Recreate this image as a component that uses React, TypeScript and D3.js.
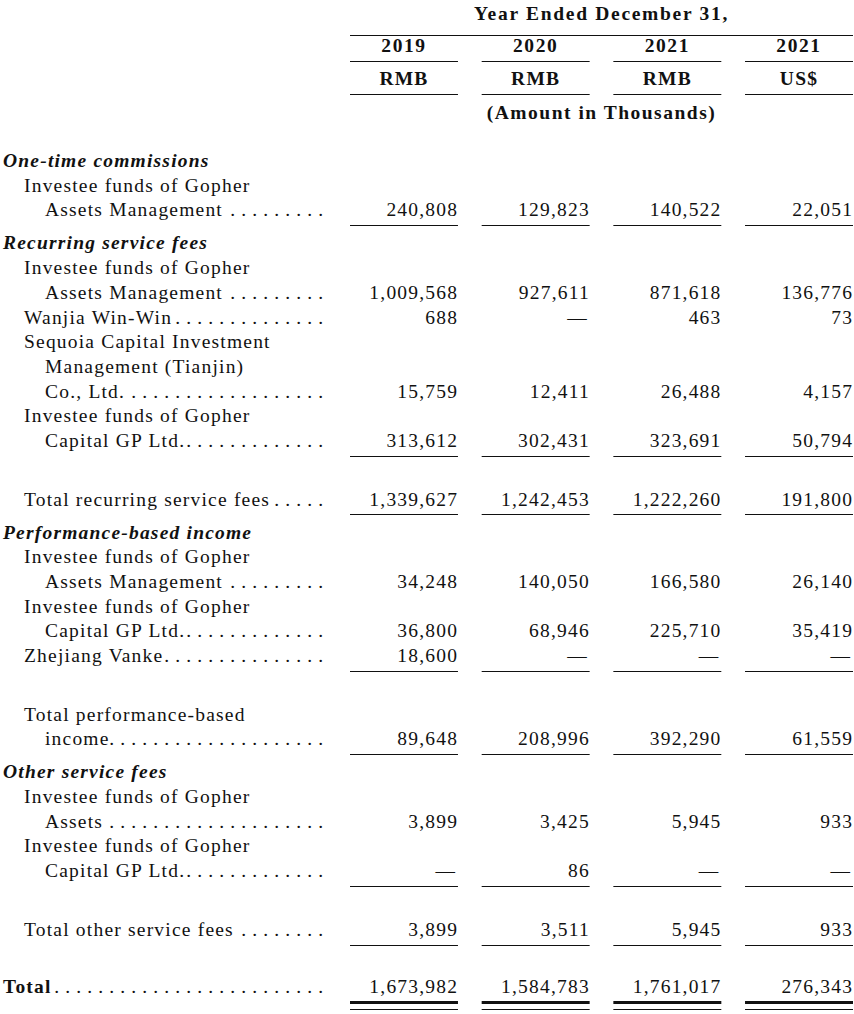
import React, { useEffect, useRef } from 'react';
import * as d3 from 'd3';

// column headers
const years = ['2019', '2020', '2021', '2021'];
const currencies = ['RMB', 'RMB', 'RMB', 'US$'];
const colKeys = ['c2019', 'c2020', 'c2021', 'c2021usd'];

// values in thousands, null = dash
const oneTimeGopherAssets = [240808, 129823, 140522, 22051];
const recurringGopherAssets = [1009568, 927611, 871618, 136776];
const recurringWanjia = [688, null, 463, 73];
const recurringSequoia = [15759, 12411, 26488, 4157];
const recurringGopherCapital = [313612, 302431, 323691, 50794];
const recurringTotal = [1339627, 1242453, 1222260, 191800];
const perfGopherAssets = [34248, 140050, 166580, 26140];
const perfGopherCapital = [36800, 68946, 225710, 35419];
const perfVanke = [18600, null, null, null];
const perfTotal = [89648, 208996, 392290, 61559];
const otherGopherAssets = [3899, 3425, 5945, 933];
const otherGopherCapital = [null, 86, null, null];
const otherTotal = [3899, 3511, 5945, 933];
const grandTotal = [1673982, 1584783, 1761017, 276343];

type Row = {
    label: string;
    indent: number;
    kind?: 'section' | 'total';
    values?: (number | null)[];
    step: 'n' | 'r' | 'b' | 't';
    rule?: 'single' | 'double';
};

const rows: Row[] = [
    { label: 'One-time commissions', indent: 0, kind: 'section', step: 'n' },
    { label: 'Investee funds of Gopher', indent: 1, step: 'n' },
    { label: 'Assets Management', indent: 2, values: oneTimeGopherAssets, step: 'n', rule: 'single' },
    { label: 'Recurring service fees', indent: 0, kind: 'section', step: 'r' },
    { label: 'Investee funds of Gopher', indent: 1, step: 'n' },
    { label: 'Assets Management', indent: 2, values: recurringGopherAssets, step: 'n' },
    { label: 'Wanjia Win-Win', indent: 1, values: recurringWanjia, step: 'n' },
    { label: 'Sequoia Capital Investment', indent: 1, step: 'n' },
    { label: 'Management (Tianjin)', indent: 2, step: 'n' },
    { label: 'Co., Ltd.', indent: 2, values: recurringSequoia, step: 'n' },
    { label: 'Investee funds of Gopher', indent: 1, step: 'n' },
    { label: 'Capital GP Ltd.', indent: 2, values: recurringGopherCapital, step: 'n', rule: 'single' },
    { label: 'Total recurring service fees', indent: 1, values: recurringTotal, step: 'b', rule: 'single' },
    { label: 'Performance-based income', indent: 0, kind: 'section', step: 'r' },
    { label: 'Investee funds of Gopher', indent: 1, step: 'n' },
    { label: 'Assets Management', indent: 2, values: perfGopherAssets, step: 'n' },
    { label: 'Investee funds of Gopher', indent: 1, step: 'n' },
    { label: 'Capital GP Ltd.', indent: 2, values: perfGopherCapital, step: 'n' },
    { label: 'Zhejiang Vanke', indent: 1, values: perfVanke, step: 'n', rule: 'single' },
    { label: 'Total performance-based', indent: 1, step: 'b' },
    { label: 'income', indent: 2, values: perfTotal, step: 'n', rule: 'single' },
    { label: 'Other service fees', indent: 0, kind: 'section', step: 'r' },
    { label: 'Investee funds of Gopher', indent: 1, step: 'n' },
    { label: 'Assets', indent: 2, values: otherGopherAssets, step: 'n' },
    { label: 'Investee funds of Gopher', indent: 1, step: 'n' },
    { label: 'Capital GP Ltd.', indent: 2, values: otherGopherCapital, step: 'n', rule: 'single' },
    { label: 'Total other service fees', indent: 1, values: otherTotal, step: 'b', rule: 'single' },
    { label: 'Total', indent: 0, kind: 'total', values: grandTotal, step: 't', rule: 'double' },
];

const W = 854;
const H = 1014;
const FONT = '"Liberation Serif", "Times New Roman", serif';
const FS = 19.5;
const LS = 1.2;
const stepSize = { n: 24.7, r: 33, b: 58.5, t: 57 };

function Table() {
    const ref = useRef<SVGSVGElement>(null);

    useEffect(() => {
        const svg = d3.select(ref.current);
        svg.selectAll('*').remove();

        const x = d3.scaleBand<string>().domain(colKeys).range([350, 853]).paddingInner(0.18).paddingOuter(0);
        const bw = x.bandwidth();
        const fmt = d3.format(',');
        const indentX = d3.scaleOrdinal<number, number>().domain([0, 1, 2]).range([3, 24, 45]);
        const dotsEnd = 323;
        const dotGap = 11;

        const g = svg.append('g')
            .attr('font-family', FONT)
            .attr('font-size', FS)
            .attr('letter-spacing', LS)
            .attr('fill', '#111');

        const rule = (x1: number, x2: number, yy: number, w = 1) =>
            g.append('line').attr('x1', x1).attr('x2', x2).attr('y1', yy).attr('y2', yy)
                .attr('stroke', '#111').attr('stroke-width', w);

        // header
        const mid = (350 + 853) / 2;
        g.append('text').attr('x', mid).attr('y', 13 + 7).attr('text-anchor', 'middle')
            .attr('font-weight', 'bold').attr('letter-spacing', 1.7).text('Year Ended December 31,');
        rule(350, 853, 35.5);
        colKeys.forEach((k, i) => {
            const cx = x(k)! + bw / 2;
            g.append('text').attr('x', cx).attr('y', 45 + 7).attr('text-anchor', 'middle')
                .attr('font-weight', 'bold').attr('letter-spacing', 1.6).text(years[i]);
            g.append('text').attr('x', cx).attr('y', 78 + 7).attr('text-anchor', 'middle')
                .attr('font-weight', 'bold').attr('letter-spacing', 1.2).text(currencies[i]);
            rule(x(k)!, x(k)! + bw, 61.5);
            rule(x(k)!, x(k)! + bw, 94.5);
        });
        g.append('text').attr('x', x(colKeys[1])! + (x(colKeys[2])! + bw - x(colKeys[1])!) / 2)
            .attr('y', 112 + 7).attr('text-anchor', 'middle').attr('font-weight', 'bold')
            .attr('letter-spacing', 1.5)
            .text('(Amount in Thousands)');

        // body
        let y = 160 - stepSize.n;
        rows.forEach(r => {
            y += stepSize[r.step];
            const base = y + 7;
            const t = g.append('text')
                .attr('x', indentX(r.indent))
                .attr('y', base)
                .text(r.label);
            if (r.kind === 'section') t.attr('font-weight', 'bold').attr('font-style', 'italic');
            if (r.kind === 'total') t.attr('font-weight', 'bold');

            if (r.values) {
                const node = t.node() as SVGTextElement;
                const end = indentX(r.indent) + node.getComputedTextLength();
                const dots: number[] = [];
                for (let dx = dotsEnd; dx > end + 3; dx -= dotGap) dots.push(dx);
                g.selectAll(null).data(dots).enter().append('text')
                    .attr('x', d => d).attr('y', base).attr('text-anchor', 'end')
                    .attr('letter-spacing', 0).text('.');

                r.values.forEach((v, i) => {
                    const right = x(colKeys[i])! + bw;
                    g.append('text')
                        .attr('x', v == null ? right - 3 + LS : right + LS - 1)
                        .attr('y', base)
                        .attr('text-anchor', 'end')
                        .text(v == null ? '—' : fmt(v));
                });
            }

            const ly = Math.round(y + 16) + 0.5;
            if (r.rule === 'single') {
                colKeys.forEach(k => rule(x(k)!, x(k)! + bw, ly));
            }
            if (r.rule === 'double') {
                colKeys.forEach(k => {
                    rule(x(k)!, x(k)! + bw, ly, 3);
                    rule(x(k)!, x(k)! + bw, ly + 7, 1);
                });
            }
        });
    }, []);

    return (
        <svg
            ref={ref}
            width={W}
            height={H}
            style={{ position: 'absolute', left: 0, top: 0, background: '#fff' }}
        />
    );
}

export default function App() {
    return <Table />;
}
